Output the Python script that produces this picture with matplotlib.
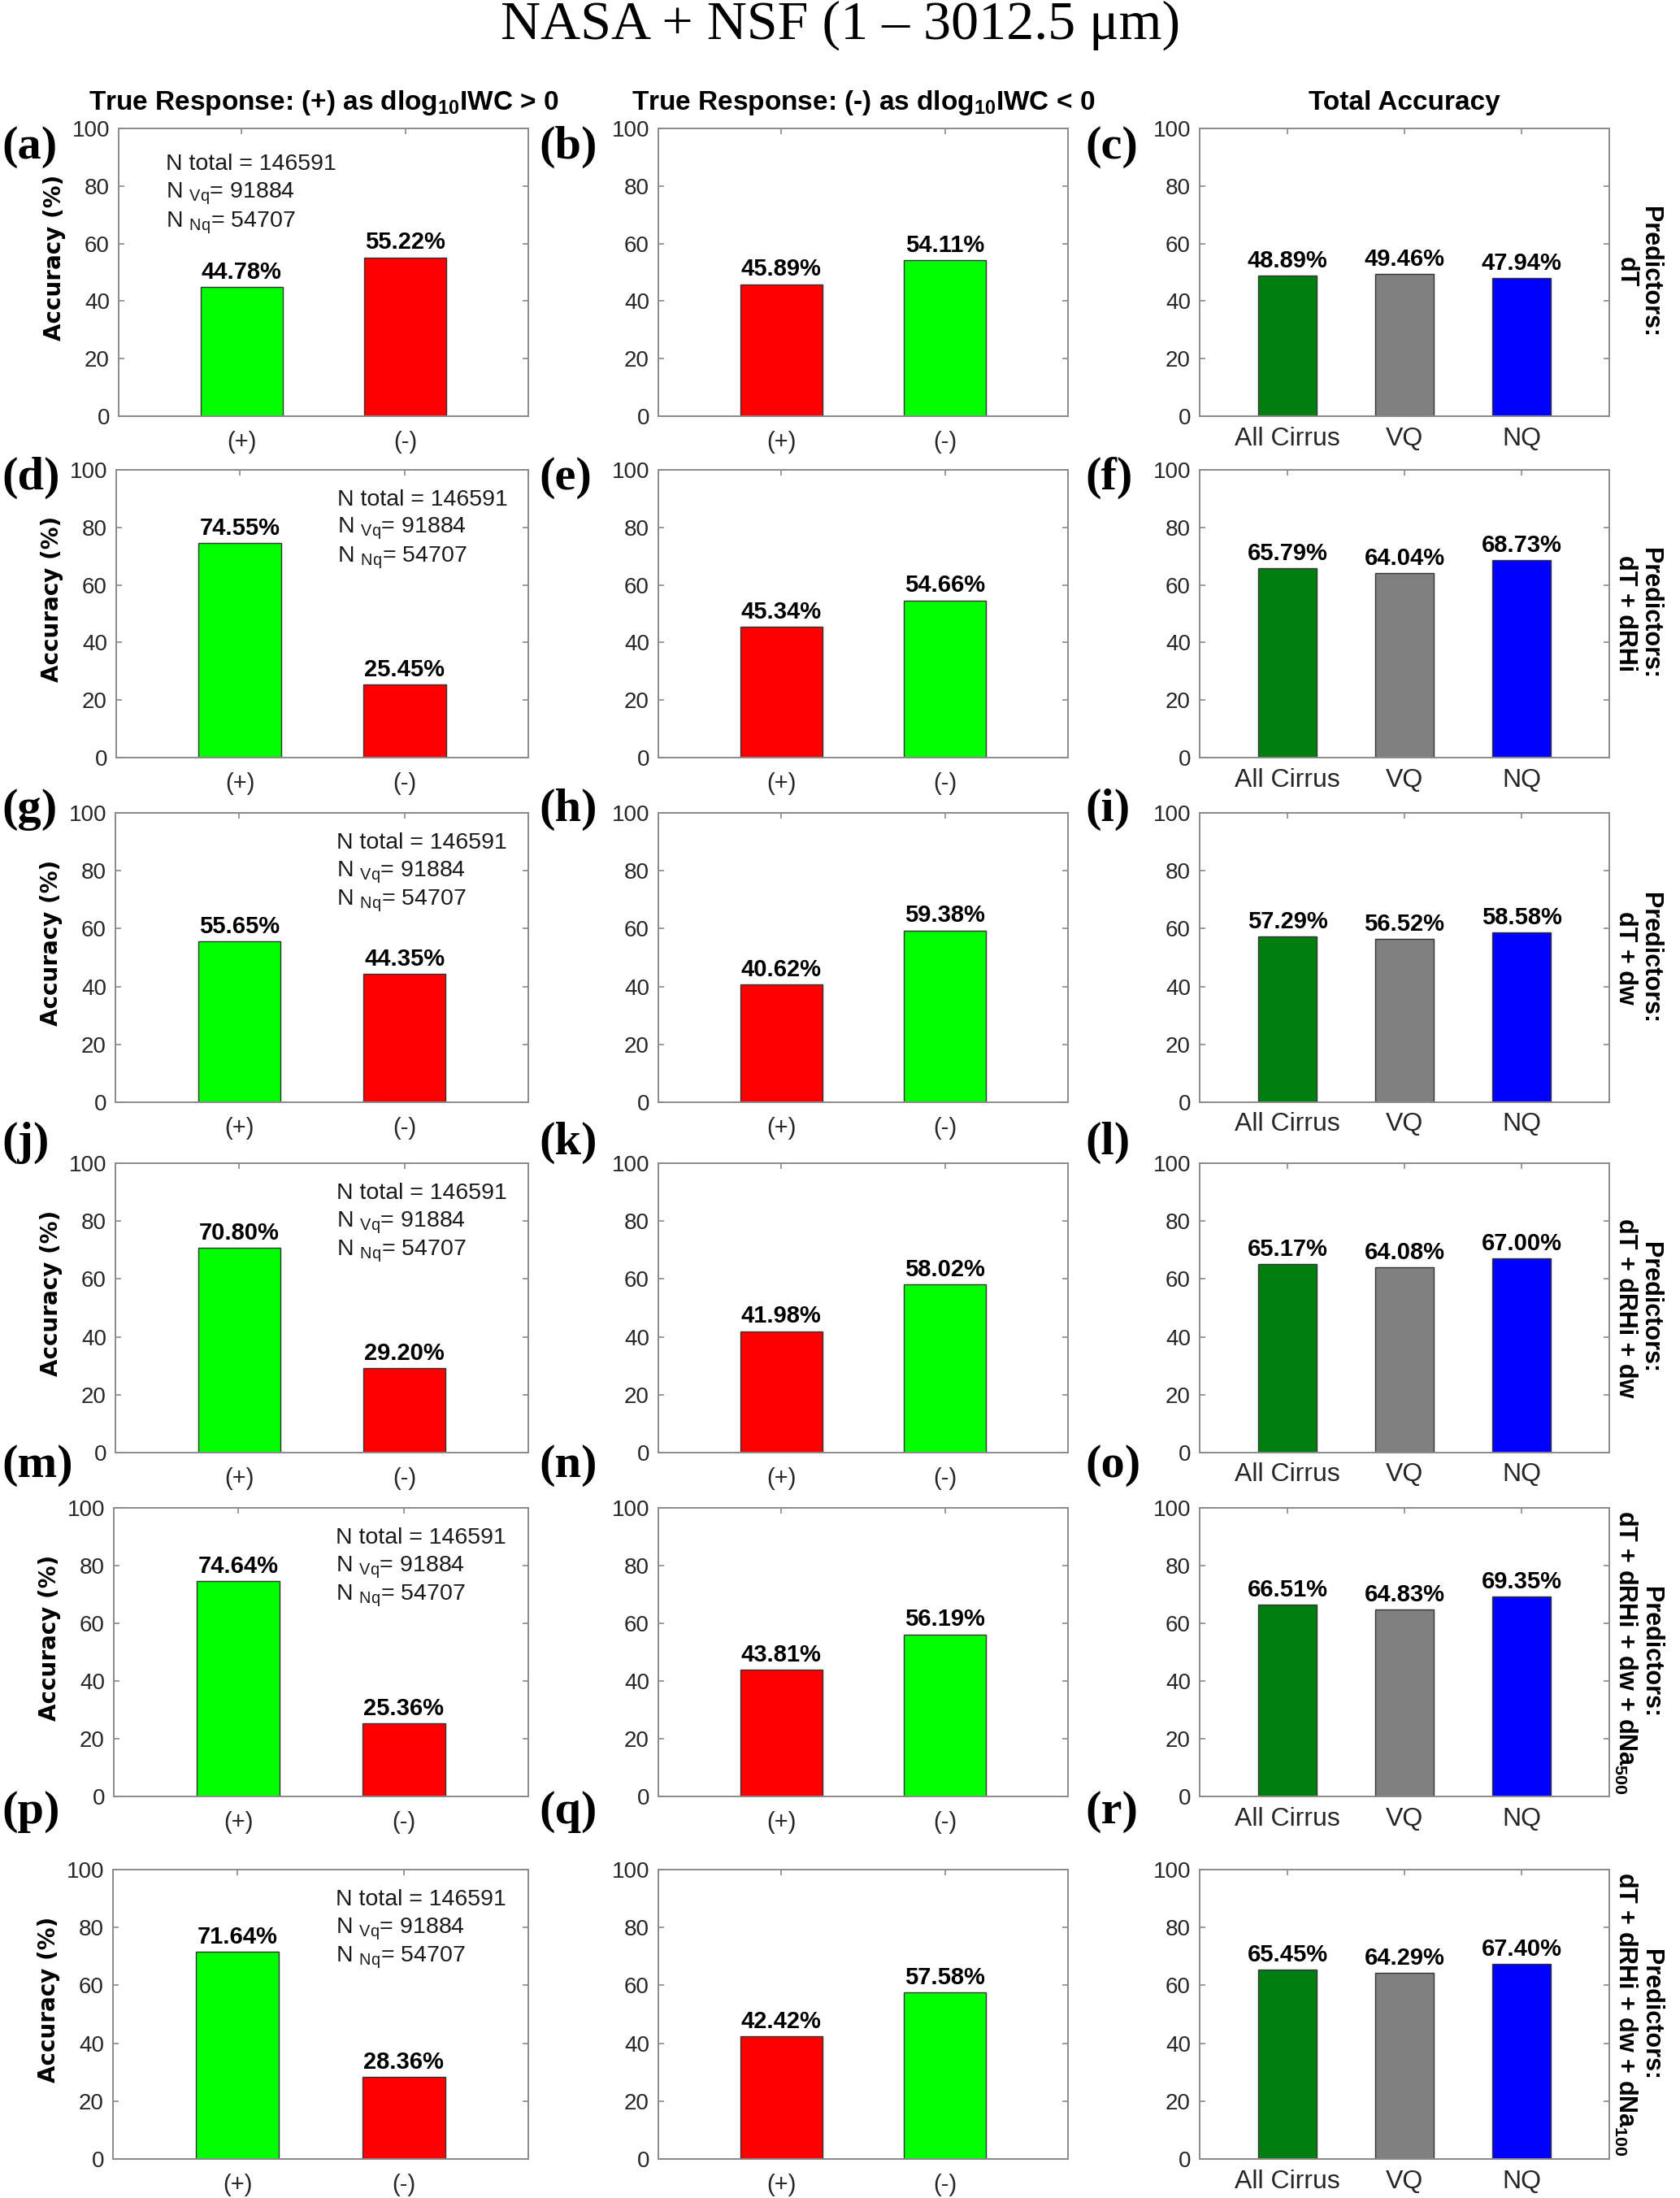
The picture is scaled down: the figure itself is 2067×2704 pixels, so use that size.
import matplotlib
matplotlib.use("Agg")
import matplotlib.pyplot as plt
import numpy as np

plt.rcParams['font.family'] = ['Liberation Sans', 'DejaVu Sans']
plt.rcParams['mathtext.fontset'] = 'custom'
plt.rcParams['mathtext.rm'] = 'Liberation Sans'
plt.rcParams['mathtext.bf'] = 'Liberation Sans:bold'

# ---------------- data ----------------
panel_letters = [["a", "b", "c"], ["d", "e", "f"], ["g", "h", "i"],
                 ["j", "k", "l"], ["m", "n", "o"], ["p", "q", "r"]]
resp_categories = ["(+)", "(-)"]
total_categories = ["All Cirrus", "VQ", "NQ"]

# True response (+): accuracy for predicted (+), (-)
pos_response = [[44.78, 55.22], [74.55, 25.45], [55.65, 44.35],
                [70.80, 29.20], [74.64, 25.36], [71.64, 28.36]]
# True response (-): accuracy for predicted (+), (-)
neg_response = [[45.89, 54.11], [45.34, 54.66], [40.62, 59.38],
                [41.98, 58.02], [43.81, 56.19], [42.42, 57.58]]
# Total accuracy: All Cirrus, VQ, NQ
total_accuracy = [[48.89, 49.46, 47.94], [65.79, 64.04, 68.73],
                  [57.29, 56.52, 58.58], [65.17, 64.08, 67.00],
                  [66.51, 64.83, 69.35], [65.45, 64.29, 67.40]]

predictors = ["dT", "dT + dRHi", "dT + dw", "dT + dRHi + dw",
              r"dT + dRHi + dw + dNa$_{\mathregular{500}}$",
              r"dT + dRHi + dw + dNa$_{\mathregular{100}}$"]

n_total = 146591
n_vq = 91884
n_nq = 54707

col_titles = [r"True Response: (+) as dlog$_{\mathregular{10}}$IWC > 0",
              r"True Response: (-) as dlog$_{\mathregular{10}}$IWC < 0",
              "Total Accuracy"]

pos_colors = ["#00ff00", "#ff0000"]
neg_colors = ["#ff0000", "#00ff00"]
tot_colors = ["#007f10", "#808080", "#0000ff"]

# ---------------- layout (pixels) ----------------
W, H = 2067, 2704
fig = plt.figure(figsize=(W / 100, H / 100), dpi=100)

row_top = [158, 578, 1000, 1431, 1855, 2300]
row_bot = [512, 932, 1356, 1787, 2210, 2656]
col1_left = [146, 143, 142, 142, 140, 139]
col_left = [None, 810, 1476]
col_w = 504
label_top = [155, 562, 970, 1380, 1777, 2203]
label_x = [2, 663, 1335]

spine_c = "#8a8a8a"
tick_c = "#262626"


def style_axes(ax, ncat, xlabels, xt_size, xpad):
    ax.set_ylim(0, 100)
    ax.set_xlim(0.25, ncat + 0.75)
    ax.set_yticks(np.arange(0, 101, 20))
    ax.set_xticks(np.arange(1, ncat + 1))
    ax.set_xticklabels(xlabels)
    for s in ax.spines.values():
        s.set_color(spine_c)
        s.set_linewidth(1.4)
    ax.tick_params(axis='both', direction='in', length=5, width=1.2,
                   color=spine_c, top=True, right=True, labelcolor=tick_c)
    ax.tick_params(axis='y', labelsize=20, pad=8)
    ax.tick_params(axis='x', labelsize=xt_size, pad=xpad)


for r in range(6):
    h = row_bot[r] - row_top[r]
    for c in range(3):
        left = col1_left[r] if c == 0 else col_left[c]
        width = (650 - left) if c == 0 else col_w
        ax = fig.add_axes([left / W, 1 - row_bot[r] / H, width / W, h / H])
        if c == 0:
            vals, cols, cats = pos_response[r], pos_colors, resp_categories
        elif c == 1:
            vals, cols, cats = neg_response[r], neg_colors, resp_categories
        else:
            vals, cols, cats = total_accuracy[r], tot_colors, total_categories
        x = np.arange(1, len(vals) + 1)
        ax.bar(x, vals, width=0.5, color=cols, edgecolor="#333333",
               linewidth=1.0, zorder=2)
        for xi, v in zip(x, vals):
            ax.annotate(f"{v:.2f}%", (xi, v), xytext=(0, 3),
                        textcoords="offset points", ha="center", va="bottom",
                        fontsize=21, fontweight="bold", color="black")
        if c == 2:
            style_axes(ax, len(vals), cats, 23, 9)
        else:
            style_axes(ax, len(vals), cats, 21, 13)

        if c == 0:
            ax.set_ylabel("Accuracy (%)", fontsize=20, fontweight="bold",
                          family="DejaVu Sans")
            ax.yaxis.set_label_coords(-0.128, 0.55)
            ntxt = [f"N total = {n_total}",
                    r"N $_{\mathregular{Vq}}$= " + f"{n_vq}",
                    r"N $_{\mathregular{Nq}}$= " + f"{n_nq}"]
            if r == 0:
                tx, ty = 0.54, [87.6, 77.4, 67.2]
            else:
                tx, ty = 1.59, [89.5, 79.5, 69.5]
            for t, yy in zip(ntxt, ty):
                ax.text(tx, yy, t, fontsize=20.5, ha="left", va="center",
                        color="#1a1a1a")
        if c == 2:
            ax.text(1.07, 0.5, "Predictors:\n" + predictors[r],
                    transform=ax.transAxes, rotation=-90, ha="center",
                    va="center", multialignment="center", fontsize=22,
                    fontweight="bold", linespacing=1.0)

        fig.text(label_x[c] / W, 1 - label_top[r] / H,
                 f"({panel_letters[r][c]})", ha="left", va="top",
                 family="Liberation Serif", fontweight="bold", fontsize=42)

# column headers
col_centers = [398, 1062, 1728]
for cc, t in zip(col_centers, col_titles):
    fig.text(cc / W, 1 - 126 / H, t, ha="center", va="center",
             fontsize=24, fontweight="bold")

fig.text(1034 / W, 1 - 48 / H, "NASA + NSF (1 – 3012.5 μm)", ha="center",
         va="baseline", family="Liberation Serif", fontsize=49)

fig.savefig("out.png", dpi=100, facecolor="white")
